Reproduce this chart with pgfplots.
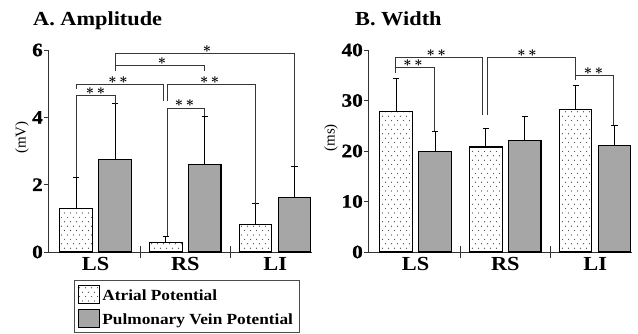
\documentclass[border=0pt]{standalone}
\usepackage{fontspec}
\setmainfont{Liberation Serif}[FakeStretch=1.12]
\newfontfamily\rotfont{Liberation Serif}
\newfontfamily\tickfont{Liberation Serif Bold}[FakeBold=1.0, FakeStretch=1.12]
\usepackage{pgfplots}
\pgfplotsset{compat=1.18}
\usetikzlibrary{patterns}
\pgfdeclarepatternformonly{sparsedots}{\pgfqpoint{-1bp}{-1bp}}{\pgfqpoint{7bp}{10bp}}{\pgfqpoint{6bp}{8.8bp}}{%
 \pgfpathcircle{\pgfqpoint{1.5bp}{2.2bp}}{0.6bp}%
 \pgfpathcircle{\pgfqpoint{4.5bp}{6.6bp}}{0.6bp}%
 \pgfusepath{fill}}
\definecolor{pvgray}{RGB}{166,166,166}
\definecolor{brk}{RGB}{55,55,55}
\tikzset{
  brack/.style={draw=brk, line width=0.8bp},
  star/.style={anchor=south, inner sep=0pt, yshift=0.8bp, font=\boldmath\fontsize{15}{15}\selectfont},
}
\pgfplotsset{
  panel/.style={
    scale only axis, width=264bp, height=202bp,
    xmin=-0.53, xmax=2.41, ymin=0,
    axis x line=bottom, axis y line=left,
    axis line style={-, line width=0.9bp, draw=black!80},
    clip=false,
    xtick={0,1,2}, xticklabels={LS,RS,LI},
    xtick style={draw=none},
    xticklabel style={font=\bfseries\fontsize{20}{20}\selectfont, inner sep=0pt, yshift=-3bp},
    extra x ticks={0.5,1.5}, extra x tick labels={},
    extra x tick style={xtick align=center, major tick length=12bp, xtick style={draw=black!80, line width=0.9bp}},
    ytick align=outside, major tick length=4bp,
    ytick style={line width=0.8bp, draw=black!80},
    yticklabel style={font=\tickfont\fontsize{19}{19}\selectfont, inner sep=1bp},
    yticklabel={\tickfont\fontsize{19}{19}\selectfont\pgfmathprintnumber[assume math mode=true]{\tick}},
  },
  atr/.style={ybar, bar width=0.36, bar shift=0pt, draw=black, line width=1.1bp,
    pattern=sparsedots, pattern color=black!75,
    error bars/.cd, y dir=plus, y explicit,
    error bar style={line width=0.9bp, black},
    error mark options={line width=0.9bp, mark size=3.2bp, rotate=90, black}},
  pv/.style={ybar, bar width=0.36, bar shift=0pt, draw=black, line width=1.1bp,
    fill=pvgray,
    error bars/.cd, y dir=plus, y explicit,
    error bar style={line width=0.9bp, black},
    error mark options={line width=0.9bp, mark size=3.2bp, rotate=90, black}},
}
\begin{document}
\begin{tikzpicture}
\path[use as bounding box] (-48bp,-82bp) rectangle (590bp,252bp);
\begin{axis}[panel, at={(0,0)}, anchor=south west, ymax=6, ytick={0,2,4,6},
  legend style={at={(0.0985,-0.1386)}, anchor=north west, draw=black!70, line width=0.6bp,
    font=\bfseries\fontsize{15.5}{15.5}\selectfont, row sep=5bp, inner xsep=4bp, inner ysep=4.5bp},
  legend cell align=left,
  legend image code/.code={\draw[#1, line width=1.1bp] (0bp,-7.5bp) rectangle (21bp,10.5bp);}]
\addplot[atr] coordinates {(-0.217,1.30) +- (0,0.90) (0.783,0.27) +- (0,0.20) (1.783,0.81) +- (0,0.62)};
\addlegendentry{Atrial Potential}
\addplot[pv] coordinates {(0.217,2.75) +- (0,1.65) (1.217,2.60) +- (0,1.43) (2.217,1.61) +- (0,0.92)};
\addlegendentry{Pulmonary Vein Potential}
% significance brackets
\draw[brack] (axis cs:-0.211,2.22) -- (axis cs:-0.211,4.64) -- (axis cs:0.217,4.64) -- (axis cs:0.217,4.40);
\node[star] at (axis cs:0.0,4.64) {$\ast\,\ast$};
\draw[brack] (axis cs:-0.211,4.85) -- (axis cs:-0.211,4.97) -- (axis cs:0.75,4.97) -- (axis cs:0.75,4.50);
\node[star] at (axis cs:0.25,4.97) {$\ast\,\ast$};
\draw[brack] (axis cs:0.80,4.50) -- (axis cs:0.80,4.97) -- (axis cs:1.78,4.97) -- (axis cs:1.78,1.44);
\node[star] at (axis cs:1.27,4.97) {$\ast\,\ast$};
\draw[brack] (axis cs:0.80,0.48) -- (axis cs:0.80,4.28) -- (axis cs:1.21,4.28) -- (axis cs:1.21,4.03);
\node[star] at (axis cs:0.99,4.28) {$\ast\,\ast$};
\draw[brack] (axis cs:0.217,5.37) -- (axis cs:0.217,5.53) -- (axis cs:1.21,5.53) -- (axis cs:1.21,5.37);
\node[star] at (axis cs:0.74,5.53) {$\ast$};
\draw[brack] (axis cs:0.217,5.53) -- (axis cs:0.217,5.90) -- (axis cs:2.21,5.90) -- (axis cs:2.21,2.54);
\node[star] at (axis cs:1.24,5.90) {$\ast$};
\node[anchor=base west, inner sep=0pt, xshift=-15bp, yshift=24.3bp, font=\bfseries\fontsize{20}{20}\selectfont] at (rel axis cs:0,1) {A. Amplitude};
\node[rotate=90, font=\rotfont\fontsize{15}{15}\selectfont] at ([xshift=-26bp]rel axis cs:0,0.567) {(mV)};
\end{axis}
\begin{axis}[panel, at={(320bp,0)}, anchor=south west, ymax=40, ytick={0,10,20,30,40}]
\addplot[atr] coordinates {(-0.217,27.8) +- (0,6.6) (0.783,20.8) +- (0,3.7) (1.783,28.3) +- (0,4.6)};
\addplot[pv] coordinates {(0.217,19.9) +- (0,3.9) (1.217,22.1) +- (0,4.7) (2.217,21.1) +- (0,3.9)};
\draw[brack] (axis cs:-0.225,35.4) -- (axis cs:-0.225,36.5) -- (axis cs:0.214,36.5) -- (axis cs:0.214,23.9);
\node[star] at (axis cs:-0.03,36.5) {$\ast\,\ast$};
\draw[brack] (axis cs:-0.225,36.5) -- (axis cs:-0.225,38.5) -- (axis cs:0.74,38.5) -- (axis cs:0.74,27.1);
\node[star] at (axis cs:0.23,38.5) {$\ast\,\ast$};
\draw[brack] (axis cs:0.80,27.1) -- (axis cs:0.80,38.5) -- (axis cs:1.777,38.5) -- (axis cs:1.777,34.0);
\node[star] at (axis cs:1.24,38.5) {$\ast\,\ast$};
\draw[brack] (axis cs:1.777,34.9) -- (axis cs:2.204,34.9) -- (axis cs:2.204,25.1);
\node[star] at (axis cs:1.98,34.9) {$\ast\,\ast$};
\node[anchor=base west, inner sep=0pt, xshift=-13bp, yshift=24.3bp, font=\bfseries\fontsize{20}{20}\selectfont] at (rel axis cs:0,1) {B. Width};
\node[rotate=90, font=\rotfont\fontsize{15}{15}\selectfont] at ([xshift=-37bp]rel axis cs:0,0.565) {(ms)};
\end{axis}
\end{tikzpicture}
\end{document}
